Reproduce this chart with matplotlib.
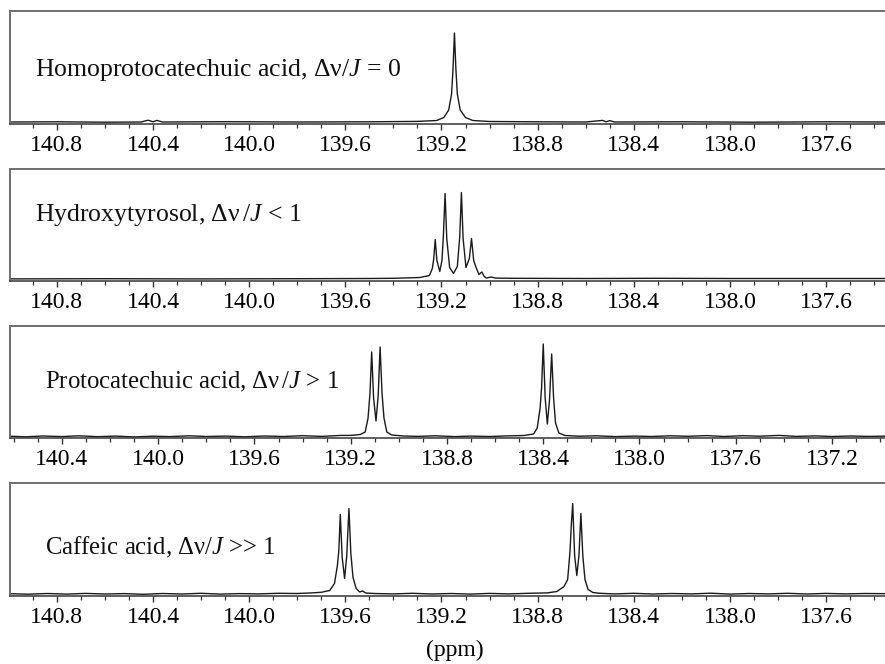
import matplotlib
matplotlib.use("Agg")
import matplotlib.pyplot as plt
from matplotlib.ticker import MultipleLocator, FormatStrFormatter

plt.rcParams['font.family'] = ['Liberation Serif', 'DejaVu Serif']
plt.rcParams['mathtext.fontset'] = 'custom'
plt.rcParams['mathtext.rm'] = 'Liberation Serif'
plt.rcParams['mathtext.it'] = 'Liberation Serif:italic'

# ---------------- data (ppm, intensity) ----------------
labels = [
    r"Homoprotocatechuic acid, $\mathrm{\Delta\nu}/J$ = 0",
    r"Hydroxytyrosol, $\mathrm{\Delta\nu}\,/J$ < 1",
    r"Protocatechuic acid, $\mathrm{\Delta\nu}\,/J$ > 1",
    r"Caffeic acid, $\mathrm{\Delta\nu}/J$ >> 1",
]

ppm1 = [141.00, 140.80, 140.60, 140.45, 140.42, 140.40, 140.385, 140.36, 140.10,
        139.80, 139.50, 139.30, 139.22, 139.19, 139.17, 139.158, 139.152, 139.146,
        139.140, 139.134, 139.122, 139.10, 139.07, 139.00, 138.80, 138.60, 138.53,
        138.515, 138.50, 138.48, 138.20, 137.90, 137.60, 137.33]
int1 = [2.0, 2.2, 1.8, 2.0, 3.8, 2.2, 3.6, 2.0, 2.3,
        2.0, 2.2, 2.6, 3.5, 6.5, 14, 30, 55, 91,
        55, 30, 14, 6.5, 3.5, 2.5, 2.2, 2.0, 3.6,
        2.2, 3.4, 2.0, 2.2, 1.8, 2.2, 2.0]

ppm2 = [141.00, 140.60, 140.20, 139.80, 139.50, 139.40, 139.29, 139.25, 139.238,
        139.232, 139.226, 139.219, 139.207, 139.198, 139.192, 139.185, 139.178,
        139.166, 139.150, 139.134, 139.124, 139.117, 139.110, 139.098, 139.084,
        139.075, 139.066, 139.056, 139.044, 139.032, 139.022, 139.014, 138.993,
        138.975, 138.90, 138.60, 138.30, 138.00, 137.60, 137.33]
int2 = [1.6, 1.8, 1.6, 1.8, 2.0, 2.2, 3.0, 5.0, 12,
        22, 41, 20, 9, 20, 45, 87, 42,
        13, 7, 14, 44, 88, 42, 13, 22,
        42, 20, 13, 6, 8.5, 4.0, 2.5, 3.5,
        2.4, 2.2, 2.0, 2.2, 2.0, 2.0, 2.0]

ppm3 = [140.62, 140.55, 140.48, 140.40, 140.33, 140.25, 140.18, 140.10, 140.02,
        139.95, 139.87, 139.80, 139.72, 139.64, 139.56, 139.48, 139.40, 139.32,
        139.24, 139.20, 139.16, 139.14, 139.128, 139.120, 139.113, 139.105,
        139.095, 139.086, 139.078, 139.070, 139.062, 139.05, 139.03, 138.98,
        138.92, 138.85, 138.77, 138.70, 138.62, 138.55, 138.48, 138.44, 138.425,
        138.413, 138.407, 138.400, 138.392, 138.383, 138.374, 138.365, 138.357,
        138.349, 138.335, 138.31, 138.25, 138.18, 138.10, 138.02, 137.95, 137.87,
        137.80, 137.72, 137.65, 137.57, 137.50, 137.42, 137.35, 137.27, 137.20,
        137.12, 137.05, 136.96]
int3 = [1.8, 1.2, 2.0, 1.4, 2.2, 1.3, 1.9, 1.1, 1.8,
        1.4, 2.2, 1.5, 1.9, 1.2, 2.0, 1.5, 2.3, 1.6,
        2.6, 2.6, 3.5, 6.0, 20, 45, 86, 40,
        17, 42, 91, 45, 20, 6.0, 3.0, 2.0,
        1.6, 2.2, 1.4, 1.9, 1.5, 2.1, 2.5, 4.0, 10,
        30, 50, 94, 40, 14, 38, 84, 40,
        15, 5.0, 2.5, 1.8, 2.2, 1.4, 1.9, 1.5, 2.2,
        1.7, 2.4, 1.5, 2.3, 1.8, 2.6, 1.6, 2.1, 1.5,
        2.0, 1.6, 1.9]

ppm4 = [141.00, 140.92, 140.84, 140.76, 140.68, 140.60, 140.52, 140.44, 140.36,
        140.28, 140.20, 140.12, 140.04, 139.96, 139.88, 139.80, 139.74, 139.70,
        139.665, 139.645, 139.633, 139.627, 139.621, 139.613, 139.603, 139.594,
        139.585, 139.577, 139.568, 139.555, 139.54, 139.528, 139.515, 139.48,
        139.40, 139.32, 139.24, 139.16, 139.08, 139.00, 138.92, 138.84, 138.76,
        138.72, 138.69, 138.675, 138.665, 138.660, 138.654, 138.646, 138.637,
        138.628, 138.620, 138.612, 138.603, 138.59, 138.57, 138.54, 138.48,
        138.40, 138.32, 138.24, 138.16, 138.08, 138.00, 137.92, 137.84, 137.76,
        137.68, 137.60, 137.52, 137.44, 137.33]
int4 = [1.8, 1.3, 2.0, 1.4, 2.1, 1.5, 1.9, 1.2, 2.0,
        1.5, 2.2, 1.4, 1.9, 1.6, 2.2, 2.0, 2.6, 3.2,
        5.0, 12, 30, 45, 81, 38, 17, 40,
        87, 42, 18, 7.0, 3.5, 4.5, 2.5, 2.0,
        1.6, 2.2, 1.5, 2.0, 1.4, 2.1, 1.6, 2.2, 2.6,
        4.0, 9.0, 16, 45, 70, 92, 40, 20,
        40, 82, 40, 16, 6.0, 3.0, 2.2, 1.6,
        2.2, 1.5, 2.0, 1.6, 2.3, 1.4, 2.0, 1.6, 2.2,
        1.5, 2.1, 1.6, 2.0, 1.8]

spectra = [(ppm1, int1), (ppm2, int2), (ppm3, int3), (ppm4, int4)]

# ---------------- layout ----------------
W, H = 885, 664
fig = plt.figure(figsize=(W / 100, H / 100), dpi=100)

panel_px = [(11, 124), (169, 280.5), (326, 438), (483, 595.5)]   # top, bottom in px
xlims = [(140.995, 137.334), (140.995, 137.334), (140.616, 136.959), (140.995, 137.334)]
text_pos = [(35, 70), (35, 215), (45, 382), (45, 547)]
text_size = [18.5, 18.5, 17.8, 17.8]
left_px, right_px = 10, 890

for i, ((x, y), (top, bot)) in enumerate(zip(spectra, panel_px)):
    ax = fig.add_axes([left_px / W, 1 - bot / H, (right_px - left_px) / W, (bot - top) / H])
    ax.plot(x, y, color='#1a1a1a', lw=1.0)
    ax.set_xlim(*xlims[i])
    ax.set_ylim(0, bot - top)
    ax.set_yticks([])
    ax.xaxis.set_major_locator(MultipleLocator(0.4))
    ax.xaxis.set_minor_locator(MultipleLocator(0.1))
    ax.xaxis.set_major_formatter(FormatStrFormatter('%.1f'))
    ax.tick_params(axis='x', which='major', direction='out', length=4.5, width=1.0,
                   color='#333333', labelsize=17, pad=3.5)
    ax.tick_params(axis='x', which='minor', direction='out', length=3, width=0.9,
                   color='#333333')
    for s in ('top', 'left', 'right'):
        ax.spines[s].set_color('#6e6e6e')
        ax.spines[s].set_linewidth(1.4)
    ax.spines['bottom'].set_color('#444444')
    ax.spines['bottom'].set_linewidth(1.2)
    tx, ty = text_pos[i]
    fig.text(tx / W, 1 - ty / H, labels[i], fontsize=text_size[i], va='center',
             ha='left', color='#111111')

fig.text(455 / W, 1 - 650 / H, "(ppm)", fontsize=17, ha='center', va='center')

fig.savefig("out.png", dpi=100)
